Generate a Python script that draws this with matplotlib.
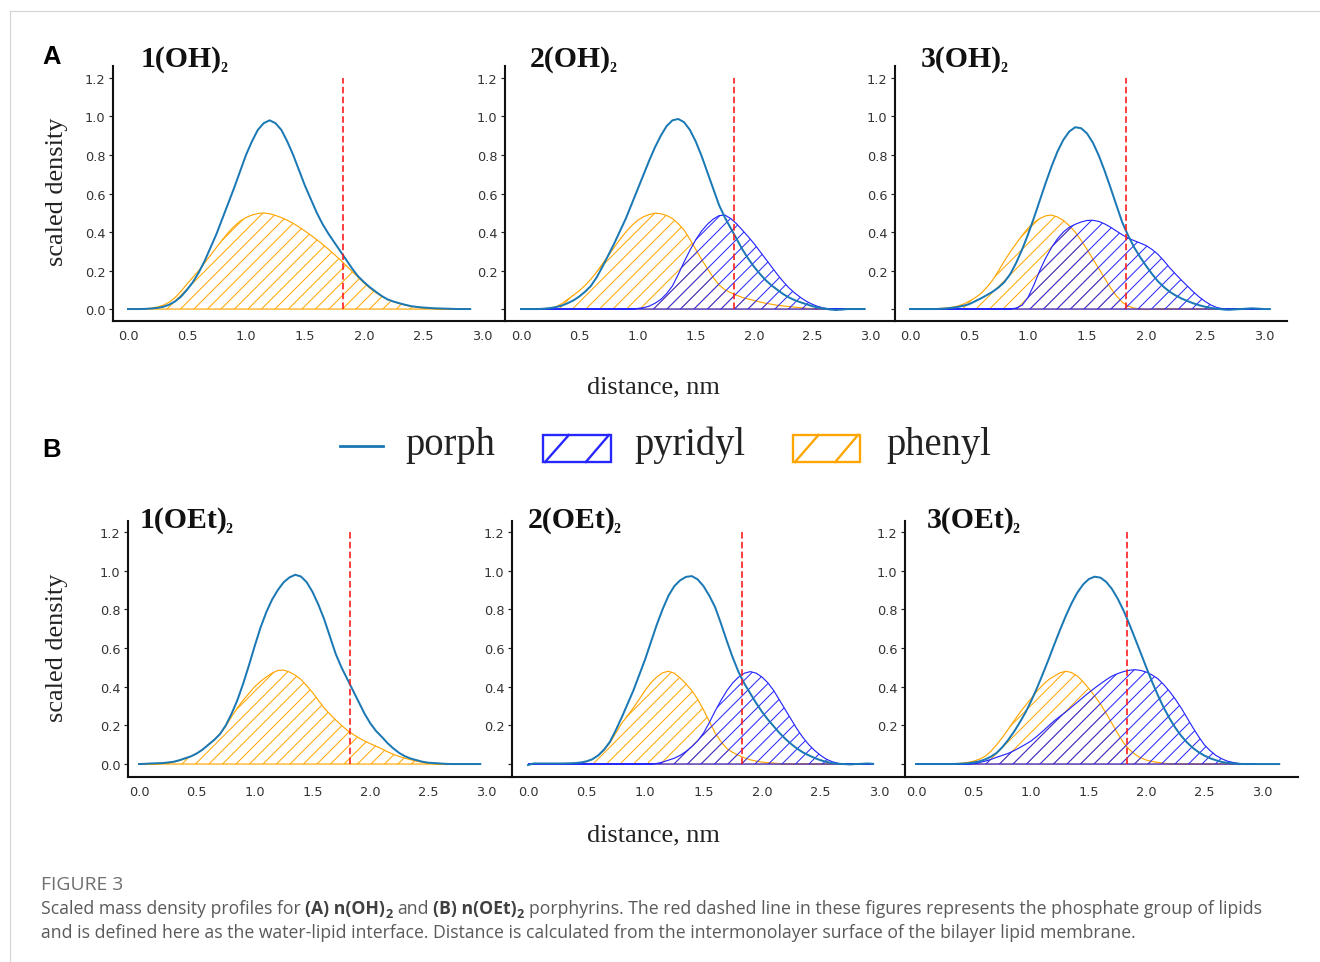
import matplotlib
matplotlib.use("Agg")
import matplotlib.pyplot as plt
from matplotlib.lines import Line2D
from matplotlib.patches import Rectangle
from matplotlib.collections import LineCollection
from matplotlib.transforms import IdentityTransform

nan = float("nan")

# ---------------- data (step 0.05 nm) ----------------
distance = [0.00, 0.05, 0.10, 0.15, 0.20, 0.25, 0.30, 0.35, 0.40, 0.45,
            0.50, 0.55, 0.60, 0.65, 0.70, 0.75, 0.80, 0.85, 0.90, 0.95,
            1.00, 1.05, 1.10, 1.15, 1.20, 1.25, 1.30, 1.35, 1.40, 1.45,
            1.50, 1.55, 1.60, 1.65, 1.70, 1.75, 1.80, 1.85, 1.90, 1.95,
            2.00, 2.05, 2.10, 2.15, 2.20, 2.25, 2.30, 2.35, 2.40, 2.45,
            2.50, 2.55, 2.60, 2.65, 2.70, 2.75, 2.80, 2.85, 2.90, 2.95,
            3.00, 3.05, 3.10, 3.15]

# ---- row A : n(OH)2 ----
porph_1OH = [0.0, 0.0, 0.0, 0.001, 0.003, 0.006, 0.012, 0.023, 0.04, 0.065,
             0.10, 0.14, 0.19, 0.25, 0.32, 0.39, 0.47, 0.55, 0.63, 0.715,
             0.80, 0.87, 0.93, 0.965, 0.98, 0.965, 0.93, 0.87, 0.80, 0.72,
             0.64, 0.57, 0.50, 0.44, 0.39, 0.345, 0.30, 0.255, 0.21, 0.17,
             0.14, 0.113, 0.09, 0.068, 0.05, 0.039, 0.03, 0.022, 0.015, 0.011,
             0.008, 0.006, 0.004, 0.003, 0.002, 0.001, 0.0, 0.0, 0.0, nan,
             nan, nan, nan, nan]
phenyl_1OH = [0.0, 0.0, 0.0, 0.002, 0.005, 0.011, 0.02, 0.036, 0.06, 0.093,
              0.13, 0.165, 0.20, 0.24, 0.28, 0.32, 0.36, 0.397, 0.43, 0.456,
              0.475, 0.488, 0.496, 0.499, 0.495, 0.486, 0.475, 0.461, 0.445, 0.426,
              0.405, 0.383, 0.36, 0.336, 0.31, 0.283, 0.255, 0.225, 0.195, 0.165,
              0.135, 0.108, 0.085, 0.066, 0.05, 0.038, 0.028, 0.02, 0.014, 0.009,
              0.006, 0.004, 0.002, 0.001, 0.0, 0.0, 0.0, 0.0, 0.0, nan,
              nan, nan, nan, nan]

porph_2OH = [0.0, 0.0, 0.0, 0.0, 0.002, 0.005, 0.01, 0.018, 0.03, 0.045,
             0.065, 0.09, 0.12, 0.165, 0.22, 0.28, 0.34, 0.405, 0.47, 0.545,
             0.62, 0.695, 0.77, 0.84, 0.90, 0.95, 0.98, 0.987, 0.97, 0.93,
             0.87, 0.795, 0.71, 0.625, 0.54, 0.475, 0.42, 0.365, 0.31, 0.262,
             0.22, 0.183, 0.15, 0.123, 0.10, 0.078, 0.06, 0.046, 0.035, 0.025,
             0.015, 0.008, 0.003, -0.002, -0.005, -0.003, 0.0, 0.0, 0.0, 0.0,
             nan, nan, nan, nan]
phenyl_2OH = [0.0, 0.0, 0.0, 0.0, 0.002, 0.005, 0.012, 0.028, 0.05, 0.072,
              0.095, 0.123, 0.155, 0.193, 0.235, 0.278, 0.32, 0.362, 0.40, 0.433,
              0.46, 0.479, 0.491, 0.498, 0.495, 0.486, 0.47, 0.443, 0.41, 0.362,
              0.31, 0.258, 0.21, 0.164, 0.125, 0.10, 0.085, 0.072, 0.06, 0.052,
              0.045, 0.037, 0.03, 0.025, 0.02, 0.016, 0.013, 0.01, 0.007, 0.004,
              0.002, 0.0, 0.0, 0.0, 0.0, 0.0, 0.0, 0.0, 0.0, 0.0,
              nan, nan, nan, nan]
pyridyl_2OH = [0.0, 0.0, 0.0, 0.0, 0.0, 0.0, 0.0, 0.0, 0.0, 0.0,
               0.0, 0.0, 0.0, 0.0, 0.0, 0.0, 0.0, 0.0, 0.0, 0.001,
               0.003, 0.007, 0.015, 0.03, 0.05, 0.08, 0.12, 0.18, 0.245, 0.305,
               0.36, 0.405, 0.44, 0.467, 0.485, 0.488, 0.47, 0.443, 0.41, 0.376,
               0.34, 0.30, 0.26, 0.22, 0.18, 0.143, 0.11, 0.083, 0.06, 0.04,
               0.025, 0.013, 0.005, 0.001, 0.0, 0.0, 0.0, 0.0, 0.0, 0.0,
               nan, nan, nan, nan]

porph_3OH = [0.0, 0.0, 0.0, 0.0, 0.0, 0.001, 0.003, 0.006, 0.01, 0.017,
             0.025, 0.04, 0.055, 0.072, 0.09, 0.112, 0.14, 0.182, 0.24, 0.309,
             0.387, 0.473, 0.564, 0.655, 0.741, 0.818, 0.879, 0.922, 0.944, 0.939,
             0.912, 0.864, 0.797, 0.717, 0.629, 0.538, 0.448, 0.38, 0.32, 0.27,
             0.225, 0.183, 0.145, 0.115, 0.09, 0.071, 0.055, 0.042, 0.03, 0.02,
             0.012, 0.006, 0.002, -0.002, -0.004, -0.002, 0.0, 0.002, 0.004, 0.002,
             0.0, 0.0, nan, nan]
phenyl_3OH = [0.0, 0.0, 0.0, 0.0, 0.001, 0.003, 0.005, 0.009, 0.015, 0.025,
              0.04, 0.058, 0.08, 0.112, 0.15, 0.198, 0.25, 0.297, 0.34, 0.382,
              0.42, 0.449, 0.47, 0.484, 0.488, 0.478, 0.46, 0.433, 0.40, 0.357,
              0.31, 0.26, 0.21, 0.16, 0.11, 0.068, 0.035, 0.015, 0.005, 0.0,
              -0.003, -0.002, 0.0, 0.0, 0.0, 0.0, 0.0, 0.0, 0.0, 0.0,
              0.0, 0.0, 0.0, 0.0, 0.0, 0.0, 0.0, 0.0, 0.0, 0.0,
              0.0, nan, nan, nan]
pyridyl_3OH = [0.0, 0.0, 0.0, 0.0, 0.0, 0.0, 0.0, 0.0, 0.0, 0.0,
               0.0, 0.0, 0.0, 0.0, 0.0, 0.0, 0.0, 0.001, 0.005, 0.02,
               0.06, 0.125, 0.20, 0.265, 0.32, 0.365, 0.40, 0.425, 0.44, 0.452,
               0.46, 0.461, 0.455, 0.442, 0.425, 0.405, 0.385, 0.368, 0.355, 0.343,
               0.33, 0.31, 0.285, 0.252, 0.215, 0.182, 0.15, 0.12, 0.09, 0.063,
               0.04, 0.021, 0.008, 0.002, 0.0, 0.0, 0.0, 0.0, 0.0, 0.0,
               0.0, nan, nan, nan]

# ---- row B : n(OEt)2 ----
porph_1OEt = [0.0, 0.001, 0.003, 0.004, 0.005, 0.008, 0.012, 0.02, 0.03, 0.04,
              0.055, 0.075, 0.10, 0.125, 0.155, 0.20, 0.26, 0.33, 0.415, 0.51,
              0.61, 0.705, 0.785, 0.85, 0.90, 0.94, 0.965, 0.979, 0.97, 0.94,
              0.89, 0.825, 0.75, 0.66, 0.57, 0.50, 0.44, 0.38, 0.32, 0.26,
              0.21, 0.17, 0.14, 0.107, 0.08, 0.057, 0.04, 0.028, 0.02, 0.012,
              0.007, 0.005, 0.003, 0.001, 0.0, 0.0, 0.0, 0.0, 0.0, 0.0,
              nan, nan, nan, nan]
phenyl_1OEt = [0.0, 0.0, 0.0, 0.001, 0.003, 0.006, 0.01, 0.018, 0.028, 0.04,
               0.055, 0.075, 0.10, 0.125, 0.155, 0.195, 0.245, 0.29, 0.33, 0.365,
               0.40, 0.427, 0.45, 0.47, 0.484, 0.486, 0.476, 0.46, 0.437, 0.405,
               0.37, 0.33, 0.29, 0.258, 0.228, 0.20, 0.175, 0.154, 0.135, 0.119,
               0.105, 0.092, 0.078, 0.063, 0.05, 0.039, 0.03, 0.022, 0.015, 0.009,
               0.005, 0.002, 0.0, 0.0, 0.0, 0.0, 0.0, 0.0, 0.0, 0.0,
               nan, nan, nan, nan]

porph_2OEt = [-0.005, 0.003, 0.003, 0.003, 0.003, 0.003, 0.003, 0.004, 0.005, 0.008,
              0.014, 0.025, 0.045, 0.075, 0.115, 0.175, 0.24, 0.31, 0.38, 0.46,
              0.54, 0.63, 0.72, 0.80, 0.87, 0.92, 0.95, 0.968, 0.972, 0.955,
              0.92, 0.87, 0.81, 0.725, 0.635, 0.55, 0.475, 0.415, 0.365, 0.315,
              0.27, 0.23, 0.195, 0.16, 0.13, 0.103, 0.08, 0.06, 0.045, 0.031,
              0.02, 0.011, 0.005, 0.001, 0.0, -0.002, 0.0, 0.001, 0.003, 0.001,
              nan, nan, nan, nan]
phenyl_2OEt = [0.0, 0.0, 0.0, 0.0, 0.0, 0.0, 0.0, 0.0, 0.002, 0.005,
               0.012, 0.024, 0.044, 0.072, 0.11, 0.16, 0.21, 0.25, 0.29, 0.335,
               0.38, 0.42, 0.45, 0.472, 0.48, 0.47, 0.445, 0.415, 0.38, 0.335,
               0.28, 0.22, 0.16, 0.115, 0.08, 0.06, 0.045, 0.032, 0.022, 0.015,
               0.01, 0.007, 0.005, 0.002, 0.0, 0.0, 0.0, 0.0, 0.0, 0.0,
               0.0, 0.0, 0.0, 0.0, 0.0, 0.0, 0.0, 0.0, 0.0, 0.0,
               nan, nan, nan, nan]
pyridyl_2OEt = [0.0, 0.0, 0.0, 0.0, 0.0, 0.0, 0.0, 0.0, 0.0, 0.0,
                0.0, 0.0, 0.0, 0.0, 0.0, 0.0, 0.0, 0.0, 0.0, 0.0,
                0.0, 0.001, 0.003, 0.01, 0.02, 0.03, 0.045, 0.065, 0.09, 0.12,
                0.16, 0.215, 0.275, 0.33, 0.38, 0.42, 0.45, 0.47, 0.478, 0.47,
                0.45, 0.42, 0.38, 0.33, 0.28, 0.23, 0.18, 0.137, 0.10, 0.07,
                0.045, 0.025, 0.012, 0.004, 0.0, 0.0, 0.0, 0.0, 0.0, 0.0,
                nan, nan, nan, nan]

porph_3OEt = [0.0, 0.0, 0.0, 0.0, 0.0, 0.0, 0.0, 0.001, 0.002, 0.004,
              0.008, 0.014, 0.024, 0.038, 0.058, 0.088, 0.125, 0.167, 0.215, 0.267,
              0.327, 0.394, 0.466, 0.541, 0.619, 0.695, 0.767, 0.832, 0.887, 0.929,
              0.957, 0.969, 0.964, 0.942, 0.905, 0.855, 0.794, 0.724, 0.649, 0.573,
              0.496, 0.422, 0.353, 0.29, 0.235, 0.187, 0.146, 0.112, 0.084, 0.062,
              0.044, 0.03, 0.02, 0.011, 0.006, 0.003, 0.001, 0.0, 0.0, 0.0,
              0.0, 0.0, 0.0, 0.0]
phenyl_3OEt = [0.0, 0.0, 0.0, 0.0, 0.0, 0.0, 0.0, 0.002, 0.005, 0.009,
               0.015, 0.025, 0.04, 0.066, 0.10, 0.138, 0.18, 0.223, 0.265, 0.303,
               0.34, 0.377, 0.41, 0.436, 0.455, 0.472, 0.48, 0.473, 0.455, 0.425,
               0.39, 0.352, 0.31, 0.262, 0.21, 0.158, 0.11, 0.075, 0.05, 0.032,
               0.02, 0.013, 0.008, 0.004, 0.001, 0.0, 0.0, 0.0, 0.0, 0.0,
               0.0, 0.0, 0.0, 0.0, 0.0, 0.0, 0.0, 0.0, 0.0, 0.0,
               nan, nan, nan, nan]
pyridyl_3OEt = [0.0, 0.0, 0.0, 0.0, 0.0, 0.0, 0.0, 0.0, 0.0, 0.001,
                0.003, 0.008, 0.015, 0.024, 0.035, 0.045, 0.055, 0.069, 0.085, 0.102,
                0.12, 0.144, 0.17, 0.197, 0.224, 0.247, 0.27, 0.295, 0.32, 0.345,
                0.37, 0.393, 0.415, 0.436, 0.455, 0.468, 0.478, 0.485, 0.488, 0.484,
                0.475, 0.46, 0.44, 0.41, 0.375, 0.335, 0.29, 0.24, 0.19, 0.143,
                0.10, 0.07, 0.045, 0.028, 0.015, 0.008, 0.003, 0.001, 0.0, 0.0,
                nan, nan, nan, nan]

titles_main = ["1(OH)", "2(OH)", "3(OH)", "1(OEt)", "2(OEt)", "3(OEt)"]
title_sub = "2"
interface_nm = [1.82, 1.83, 1.83, 1.82, 1.83, 1.83]
x_ticks = [0.0, 0.5, 1.0, 1.5, 2.0, 2.5, 3.0]
y_ticks = [0.0, 0.2, 0.4, 0.6, 0.8, 1.0, 1.2]
legend_labels = ["porph", "pyridyl", "phenyl"]

caption_head = "FIGURE 3"
caption_line1 = [("Scaled mass density profiles for", "normal", False, True),
                 ("(A) n(OH)", "bold", False, False),
                 ("2", "bold", True, True),
                 ("and", "normal", False, True),
                 ("(B) n(OEt)", "bold", False, False),
                 ("2", "bold", True, True),
                 ("porphyrins. The red dashed line in these figures represents "
                  "the phosphate group of lipids", "normal", False, False)]
caption_line2 = [("and is defined here as the water-lipid interface. Distance is "
                  "calculated from the intermonolayer surface of the bilayer "
                  "lipid membrane.", "normal", False, False)]

# ---------------- style ----------------
C_PORPH = "#1a78b4"
C_PYR = "#2626ff"
C_PHEN = "#ffa500"
C_RED = "#ff1a1a"
SERIF = "Liberation Serif"
HATCH_STEP_PX = 13.5

W, H, DPI = 1320, 963, 84
fig = plt.figure(figsize=(W / DPI, H / DPI), dpi=DPI)
fig.patch.set_facecolor("white")
renderer = fig.canvas.get_renderer()


def fx(x):
    return x / W


def fy(y):
    return 1 - y / H


def hatched_area(ax, values, color, z):
    """Outlined area under a profile with diagonal hatch lines clipped to it."""
    xs = [d for d, v in zip(distance, values) if v == v]
    ys = [v for v in values if v == v]
    poly = ax.fill(xs + [xs[-1], xs[0]], ys + [0.0, 0.0],
                   facecolor="none", edgecolor=color, linewidth=1.0, zorder=z)[0]
    bb = ax.get_window_extent(renderer)
    hgt = bb.y1 - bb.y0
    segs = []
    k = bb.x0 - hgt
    while k < bb.x1:
        segs.append([(k, bb.y0), (k + hgt, bb.y1)])
        k += HATCH_STEP_PX
    lc = LineCollection(segs, colors=color, linewidths=0.85,
                        transform=IdentityTransform(), zorder=z)
    ax.add_collection(lc, autolim=False)
    lc.set_clip_path(poly)
    return poly


rowA = dict(top=67, bottom=322, ylim=(-0.062, 1.262))
rowB = dict(top=522, bottom=778, ylim=(-0.067, 1.257))
panels = [
    (113, 505, rowA, (-0.127, 3.195)),
    (505, 895, rowA, (-0.137, 3.210)),
    (895, 1287, rowA, (-0.127, 3.195)),
    (128, 512, rowB, (-0.095, 3.224)),
    (512, 905, rowB, (-0.137, 3.222)),
    (905, 1298, rowB, (-0.095, 3.313)),
]
series = [
    (porph_1OH, phenyl_1OH, None),
    (porph_2OH, phenyl_2OH, pyridyl_2OH),
    (porph_3OH, phenyl_3OH, pyridyl_3OH),
    (porph_1OEt, phenyl_1OEt, None),
    (porph_2OEt, phenyl_2OEt, pyridyl_2OEt),
    (porph_3OEt, phenyl_3OEt, pyridyl_3OEt),
]
title_pos = [(141, 67), (530, 67), (921, 67), (140, 528), (528, 528), (927, 528)]

for i, ((l, r, row, xlim), (po, ph, py)) in enumerate(zip(panels, series)):
    t, b = row["top"], row["bottom"]
    ax = fig.add_axes([fx(l), fy(b), (r - l) / W, (b - t) / H])
    ax.set_facecolor("none")
    ax.set_xlim(*xlim)
    ax.set_ylim(*row["ylim"])
    for s in ("top", "right"):
        ax.spines[s].set_visible(False)
    for s in ("left", "bottom"):
        ax.spines[s].set_linewidth(1.8)
        ax.spines[s].set_color("#111111")

    hatched_area(ax, ph, C_PHEN, 2)
    if py is not None:
        hatched_area(ax, py, C_PYR, 2.1)
    ax.plot(distance, po, color=C_PORPH, lw=1.7, zorder=3)
    ax.vlines(interface_nm[i], 0, 1.2, colors=C_RED, linestyles=(0, (4, 2)),
              lw=1.4, zorder=4)

    ax.set_xticks(x_ticks)
    ax.set_xticklabels([f"{v:.1f}" for v in x_ticks])
    ax.set_yticks(y_ticks)
    ylabels = [f"{v:.1f}" for v in y_ticks]
    if i % 3 != 0:
        ylabels[0] = ""
    ax.set_yticklabels(ylabels)
    ax.tick_params(axis="x", length=0, pad=7, labelsize=11, labelcolor="#333333")
    ax.tick_params(axis="y", length=3.5, width=1.0, pad=3, labelsize=11,
                   labelcolor="#333333", color="#222222")

    # panel title with a small subscript
    tx, ty = title_pos[i]
    tt = fig.text(fx(tx), fy(ty), titles_main[i], fontsize=25.5, fontweight="bold",
                  family=SERIF, ha="left", va="baseline", color="#111111")
    wpx = tt.get_window_extent(renderer).width
    fig.text(fx(tx + wpx - 2), fy(ty + 5), title_sub, fontsize=12,
             fontweight="bold", family=SERIF, ha="left", va="baseline",
             color="#111111")

# panel letters
fig.text(fx(42), fy(57), "A", fontsize=22, fontweight="bold",
         family="Liberation Sans", ha="left", va="center")
fig.text(fx(42), fy(450), "B", fontsize=22, fontweight="bold",
         family="Liberation Sans", ha="left", va="center")

# axis labels
for yc in (192, 648):
    fig.text(fx(57), fy(yc), "scaled density", rotation=90, fontsize=22.5,
             family=SERIF, ha="center", va="center", color="#222222")
for yc in (387, 835):
    fig.text(fx(653), fy(yc), "distance, nm", fontsize=22.5,
             family=SERIF, ha="center", va="center", color="#222222")

# legend (drawn in figure coordinates)
fig.add_artist(Line2D([fx(340), fx(383)], [fy(447), fy(447)],
                      color=C_PORPH, lw=2.4, transform=fig.transFigure))
for (x0, x1, col) in ((543, 611, C_PYR), (793, 860, C_PHEN)):
    fig.add_artist(Rectangle((fx(x0), fy(463)), (x1 - x0) / W, 27 / H,
                             facecolor="none", edgecolor=col, lw=2.0,
                             transform=fig.transFigure))
    w = x1 - x0
    for a, bb in ((0.03, 0.38), (0.63, 0.97)):
        fig.add_artist(Line2D([fx(x0 + a * w), fx(x0 + bb * w)], [fy(463), fy(436)],
                              color=col, lw=2.0, transform=fig.transFigure))
for xt, lab in zip((405, 634, 886), legend_labels):
    fig.text(fx(xt), fy(455), lab, fontsize=33, family=SERIF,
             ha="left", va="baseline", color="#222222")

# frame lines of the page
fig.add_artist(Line2D([fx(10), fx(1320)], [fy(12), fy(12)], color="#d5d5d5",
                      lw=1.0, transform=fig.transFigure))
fig.add_artist(Line2D([fx(10), fx(10)], [fy(12), fy(963)], color="#d5d5d5",
                      lw=1.0, transform=fig.transFigure))

# caption
CAP_FONT = "Open Sans"


def text_width(s, size, weight):
    tt = fig.text(0, 0, s, fontsize=size, fontweight=weight, family=CAP_FONT)
    wdt = tt.get_window_extent(renderer).width
    tt.remove()
    return wdt


def line_width(parts, size):
    sp = text_width("x x", size, "normal") - text_width("xx", size, "normal")
    total = 0.0
    for s, wgt, sub, space in parts:
        total += text_width(s, size * (0.72 if sub else 1.0), wgt)
        if space:
            total += sp
    return total


base = 10.0
cap_size = base * 1217.0 / line_width(caption_line1, base)
head_size = base * 82.0 / text_width(caption_head, base, "normal")


def draw_parts(parts, x, y, size, color):
    sp = text_width("x x", size, "normal") - text_width("xx", size, "normal")
    cx = x
    for s, wgt, sub, space in parts:
        sz = size * (0.72 if sub else 1.0)
        yy = y + (4 if sub else 0)
        tt = fig.text(fx(cx), fy(yy), s, fontsize=sz, fontweight=wgt,
                      family=CAP_FONT, ha="left", va="baseline",
                      color=("#404040" if wgt == "bold" else color))
        cx += tt.get_window_extent(renderer).width
        if space:
            cx += sp


fig.text(fx(41), fy(890), caption_head, fontsize=head_size, family=CAP_FONT,
         ha="left", va="baseline", color="#707070")
draw_parts(caption_line1, 41, 914, cap_size, "#5a5a5a")
draw_parts(caption_line2, 41, 938, cap_size, "#5a5a5a")

fig.savefig("out.png", dpi=DPI, facecolor="white")
